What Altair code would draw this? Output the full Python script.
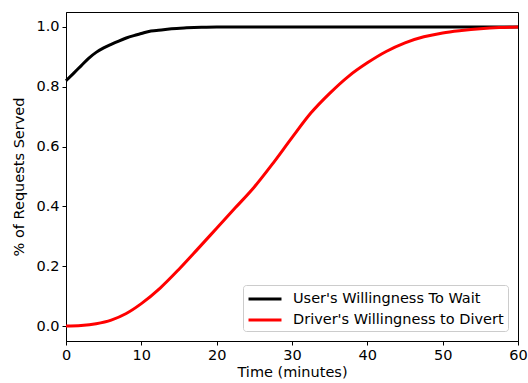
import altair as alt
import pandas as pd

user_t = [0, 1, 2, 3, 4, 5, 6, 7, 8, 9, 10, 11, 12, 14, 16, 18, 20, 30, 40, 50, 60]
user_v = [0.82, 0.845, 0.87, 0.895, 0.915, 0.93, 0.942, 0.953, 0.963, 0.971, 0.978,
          0.985, 0.988, 0.994, 0.997, 0.999, 1.0, 1.0, 1.0, 1.0, 1.0]

driver_t = [0, 2, 4, 6, 8, 10, 12.5, 15, 17.5, 20, 22.5, 25, 27.5, 30, 32.5, 35,
            37.5, 40, 42.5, 45, 47.5, 50, 52.5, 55, 57.5, 60]
driver_v = [0.0, 0.002, 0.008, 0.02, 0.042, 0.075, 0.127, 0.19, 0.258, 0.327, 0.396,
            0.465, 0.545, 0.63, 0.712, 0.778, 0.835, 0.88, 0.918, 0.947, 0.967, 0.98,
            0.988, 0.994, 0.998, 1.0]

series = ["User's Willingness To Wait", "Driver's Willingness to Divert"]
colors = ["#000000", "#ff0000"]

df = pd.concat([
    pd.DataFrame({"t": user_t, "v": user_v, "s": series[0], "o": 0}),
    pd.DataFrame({"t": driver_t, "v": driver_v, "s": series[1], "o": 1}),
])

FS = 14.5

chart = alt.Chart(df).mark_line(strokeWidth=3, interpolate="monotone").encode(
    x=alt.X("t:Q", title="Time (minutes)",
            scale=alt.Scale(domain=[0, 60], nice=False, zero=False),
            axis=alt.Axis(values=[0, 10, 20, 30, 40, 50, 60], format="d",
                          labelFlush=False, titlePadding=4)),
    y=alt.Y("v:Q", title="% of Requests Served",
            scale=alt.Scale(domain=[-0.05, 1.05], nice=False, zero=False),
            axis=alt.Axis(values=[0, 0.2, 0.4, 0.6, 0.8, 1.0], format=".1f",
                          labelFlush=False, titlePadding=9)),
    color=alt.Color("s:N", scale=alt.Scale(domain=series, range=colors),
                    legend=alt.Legend(title=None, orient="none", legendX=177, legendY=273,
                                      symbolType="M-2,0L2,0", symbolSize=272,
                                      symbolStrokeWidth=3, symbolOffset=8,
                                      labelOffset=18, labelLimit=400,
                                      padding=4, strokeColor="#cccccc",
                                      fillColor="white", cornerRadius=3,
                                      labelFontSize=FS, labelFont="DejaVu Sans",
                                      labelColor="black", rowPadding=4)),
    order="o:Q",
).properties(
    width=452, height=329,
    autosize=alt.AutoSizeParams(type="none"),
    padding={"left": 66, "top": 12, "right": 10, "bottom": 42},
).configure_view(
    stroke="black", strokeWidth=1
).configure_axis(
    grid=False, domainColor="black", tickColor="black", tickSize=4,
    labelFont="DejaVu Sans", labelFontSize=FS, labelColor="black",
    titleFont="DejaVu Sans", titleFontSize=FS, titleFontWeight="normal",
    titleColor="black", labelPadding=3,
)

chart.save("out.html", embed_options={"renderer": "svg", "actions": False})
